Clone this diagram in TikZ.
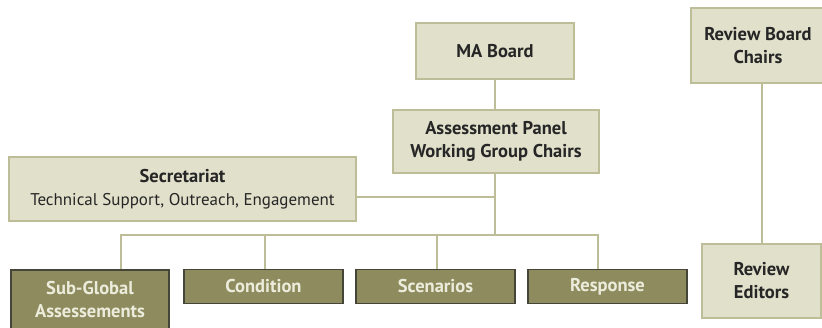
\documentclass[tikz,border=0pt]{standalone}
\usepackage{fontspec}
\setmainfont{PT Sans}
\usepackage{xcolor}
\usepackage{tikz}
\definecolor{paleolive}{HTML}{E0E0CB}
\definecolor{lineolive}{HTML}{BDBD98}
\definecolor{darkolive}{HTML}{8E8C5E}
\definecolor{edgegray}{HTML}{45453A}
\definecolor{paletext}{HTML}{ECECDC}
\tikzset{
	lightbox/.style={draw=lineolive,line width=1.4pt,fill=paleolive,align=center,
		font=\fontsize{18.5}{23}\selectfont\bfseries,text=black!85,inner sep=0pt},
	darkbox/.style={draw=edgegray,line width=1.4pt,fill=darkolive,align=center,
		font=\fontsize{18.5}{23}\selectfont\bfseries,text=paletext,inner sep=0pt},
	link/.style={draw=lineolive,line width=1.4pt}
}

\begin{document}
\begin{tikzpicture}[x=1pt,y=-1pt]
					\useasboundingbox (0,0) rectangle (822,327);
					% top of the tree
					\node[lightbox,minimum width=158pt,minimum height=56pt] (board) at (495,51) {MA Board};
					\node[lightbox,minimum width=206pt,minimum height=63pt] (panel) at (496,141.5) {Assessment Panel\\Working Group Chairs};
					\node[lightbox,minimum width=347pt,minimum height=64pt] (secr) at (182.5,189)
						{Secretariat\\{\fontsize{17}{23}\selectfont\mdseries Technical Support, Outreach, Engagement}};
					% working groups
					\node[darkbox,minimum width=158pt,minimum height=60pt] (subglobal) at (90,300) {Sub-Global\\Assessements};
					\node[darkbox,minimum width=159pt,minimum height=34pt] (cond) at (263.5,286.5) {Condition};
					\node[darkbox,minimum width=159pt,minimum height=34pt] (scen) at (435.5,286.5) {Scenarios};
					\node[darkbox,minimum width=159pt,minimum height=34pt] (resp) at (607.5,286.5) {Response};
					% review side
					\node[lightbox,minimum width=134pt,minimum height=75pt] (rbc) at (758,45.5) {Review Board\\Chairs};
					\node[lightbox,minimum width=119pt,minimum height=74pt] (editors) at (761.5,281) {Review\\Editors};
					\coordinate (bus) at (495,235);
					\coordinate (tee) at (495,197);
					% connectors
					\path[link] (board.south) -- (board.south |- panel.north);
					\path[link] (panel.south -| bus) -- (bus);
					\path[link] (secr.east |- tee) -- (tee);
					\path[link] (subglobal.north -| 121,0) |- (bus) -| (resp.north -| 598,0);
					\path[link] (cond.north -| 265,0) -- (265,235);
					\path[link] (scen.north -| 437,0) -- (437,235);
					\path[link] (rbc.south -| 762,0) -- (editors.north -| 762,0);
				\end{tikzpicture}
\end{document}
